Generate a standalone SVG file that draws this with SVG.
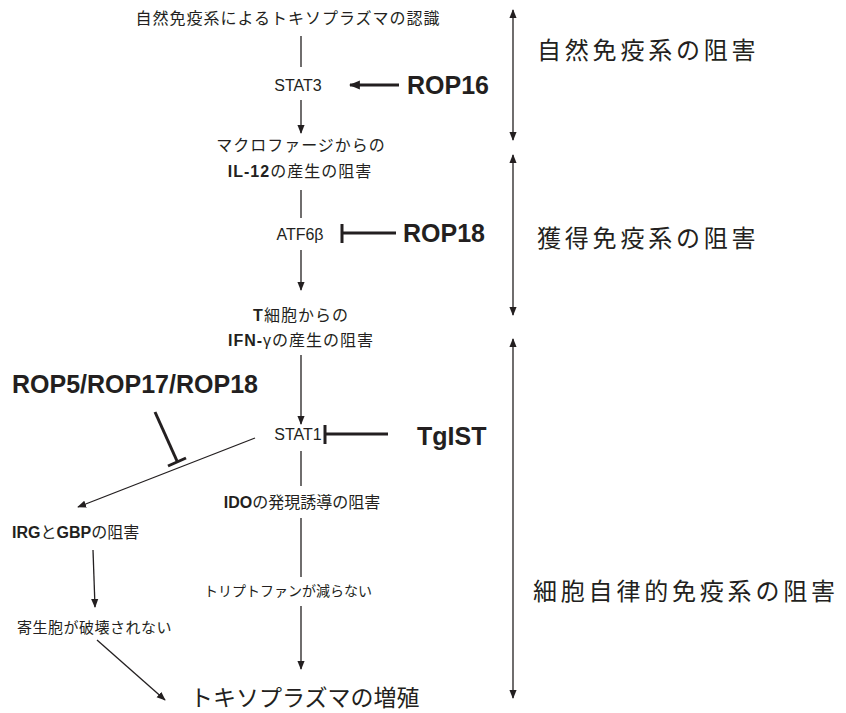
<svg xmlns="http://www.w3.org/2000/svg" width="846" height="713" viewBox="0 0 846 713">
<style>
text{font-family:"Liberation Sans","Noto Sans CJK JP",sans-serif;fill:#231f20}
.s{font-size:16px;letter-spacing:1px}
.m{font-size:15px}
.g{font-size:16px}
.b{font-weight:bold}
.big{font-size:25px;font-weight:bold}
.lab{font-size:24px;letter-spacing:3.8px}
.ln{stroke:#231f20;stroke-width:1.3;fill:none}
.th{stroke:#231f20;stroke-width:3;fill:none}
</style>
<defs>
<marker id="ah" viewBox="0 0 10 10" refX="9" refY="5" markerWidth="9" markerHeight="9" markerUnits="userSpaceOnUse" orient="auto-start-reverse">
<path d="M0,1 L10,5 L0,9 Z" fill="#231f20"/>
</marker>
<marker id="ah2" viewBox="0 0 10 10" refX="9" refY="5" markerWidth="11" markerHeight="11" markerUnits="userSpaceOnUse" orient="auto-start-reverse">
<path d="M0,1 L10,5 L0,9 Z" fill="#231f20"/>
</marker>
</defs>
<g id="connectors">
<line class="ln" x1="301" y1="36" x2="301" y2="67"/>
<line class="ln" x1="301" y1="100" x2="301" y2="133" marker-end="url(#ah)"/>
<line class="th" x1="399" y1="85" x2="350" y2="85" stroke-width="2.5" marker-end="url(#ah2)"/>
<line class="ln" x1="301" y1="190" x2="301" y2="218"/>
<line class="th" x1="342" y1="233" x2="396" y2="233"/>
<line class="th" x1="342" y1="224" x2="342" y2="243"/>
<line class="ln" x1="301" y1="250" x2="301" y2="290" marker-end="url(#ah)"/>
<line class="ln" x1="301" y1="355" x2="301" y2="424" marker-end="url(#ah)"/>
<line class="th" x1="325" y1="434" x2="388" y2="434"/>
<line class="th" x1="325" y1="425" x2="325" y2="444"/>
<line class="ln" x1="301" y1="451" x2="301" y2="486"/>
<line class="ln" x1="301" y1="518" x2="301" y2="577"/>
<line class="ln" x1="301" y1="606" x2="301" y2="669" marker-end="url(#ah)"/>
<line class="ln" x1="255" y1="438" x2="78" y2="507" marker-end="url(#ah)"/>
<line class="th" x1="155" y1="412" x2="177" y2="461"/>
<line class="th" x1="168" y1="466" x2="186" y2="458"/>
<line class="ln" x1="93" y1="550" x2="95" y2="607" marker-end="url(#ah)"/>
<line class="ln" x1="97" y1="640" x2="165" y2="700" marker-end="url(#ah)"/>
<line class="ln" x1="513" y1="10" x2="513" y2="140" marker-start="url(#ah)" marker-end="url(#ah)"/>
<line class="ln" x1="513" y1="155" x2="513" y2="315" marker-start="url(#ah)" marker-end="url(#ah)"/>
<line class="ln" x1="513" y1="339" x2="513" y2="698" marker-start="url(#ah)" marker-end="url(#ah)"/>
</g>
<g id="n_recog"><text class="s" x="288" y="24" text-anchor="middle">自然免疫系によるトキソプラズマの認識</text></g>
<g id="n_stat3"><text class="g" x="298" y="91" text-anchor="middle">STAT3</text></g>
<g id="n_rop16"><text class="big" x="407" y="94">ROP16</text></g>
<g id="n_il12"><text class="s" x="301" y="151" text-anchor="middle">マクロファージからの</text><text class="s" x="300" y="177" text-anchor="middle"><tspan class="b">IL-12</tspan>の産生の阻害</text></g>
<g id="n_atf6b"><text class="g" x="300" y="240" text-anchor="middle">ATF6β</text></g>
<g id="n_rop18"><text class="big" x="403" y="242">ROP18</text></g>
<g id="n_ifng"><text class="s" x="301" y="321" text-anchor="middle"><tspan class="b">T</tspan>細胞からの</text><text class="s" x="301" y="346" text-anchor="middle"><tspan class="b">IFN-</tspan>γの産生の阻害</text></g>
<g id="n_rop5"><text class="big" x="12" y="393">ROP5/ROP17/ROP18</text></g>
<g id="n_stat1"><text class="g" x="298" y="440" text-anchor="middle">STAT1</text></g>
<g id="n_tgist"><text class="big" x="417" y="445">TgIST</text></g>
<g id="n_irg"><text class="g" x="12" y="538"><tspan class="b">IRG</tspan>と<tspan class="b">GBP</tspan>の阻害</text></g>
<g id="n_ido"><text class="g" x="302" y="508" text-anchor="middle"><tspan class="b">IDO</tspan>の発現誘導の阻害</text></g>
<g id="n_trp"><text x="288" y="596" font-size="14" text-anchor="middle">トリプトファンが減らない</text></g>
<g id="n_vac"><text class="m" x="17" y="633" letter-spacing="0.5">寄生胞が破壊されない</text></g>
<g id="n_prolif"><text x="190" y="706" font-size="23">トキソプラズマの増殖</text></g>
<g id="n_innate"><text class="lab" x="537" y="59">自然免疫系の阻害</text></g>
<g id="n_adaptive"><text class="lab" x="537" y="247">獲得免疫系の阻害</text></g>
<g id="n_cell"><text class="lab" x="533" y="600">細胞自律的免疫系の阻害</text></g>
</svg>
